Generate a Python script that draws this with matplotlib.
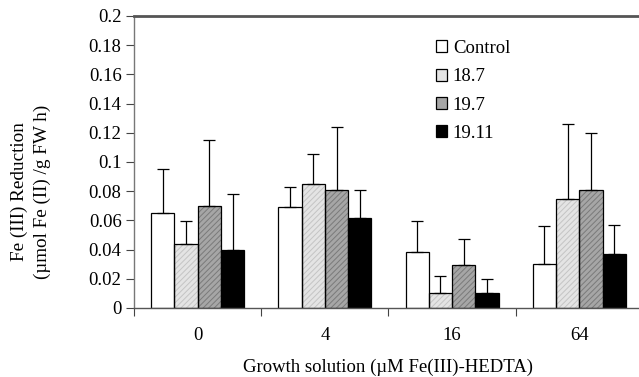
"""Fe(III) reduction by growth solution — grouped bars with upper error bars."""

import matplotlib

matplotlib.use("Agg")
import matplotlib.pyplot as plt
import numpy as np
from matplotlib.patches import Patch

plt.rcParams["font.family"] = ["Liberation Serif", "DejaVu Serif"]
plt.rcParams["hatch.linewidth"] = 0.7

categories = ["0", "4", "16", "64"]
series = ["Control", "18.7", "19.7", "19.11"]
# mean and top of upper whisker
means = {
    "Control": [0.065, 0.069, 0.0385, 0.030],
    "18.7": [0.0435, 0.085, 0.010, 0.075],
    "19.7": [0.070, 0.081, 0.0295, 0.081],
    "19.11": [0.040, 0.0615, 0.010, 0.037],
}
tops = {
    "Control": [0.095, 0.083, 0.0595, 0.0565],
    "18.7": [0.0595, 0.1055, 0.022, 0.126],
    "19.7": [0.115, 0.124, 0.0475, 0.120],
    "19.11": [0.078, 0.081, 0.020, 0.057],
}
y_ticks = [0, 0.02, 0.04, 0.06, 0.08, 0.1, 0.12, 0.14, 0.16, 0.18, 0.2]
y_tick_labels = ["0", "0.02", "0.04", "0.06", "0.08", "0.1", "0.12", "0.14", "0.16", "0.18", "0.2"]

# face colour, hatch, hatch colour
styles = {
    "Control": ("white", None, "white"),
    "18.7": ("#e4e4e4", "//////", "#c4c4c4"),
    "19.7": ("#a6a6a6", "//////", "#7a7a7a"),
    "19.11": ("black", None, "black"),
}

fig = plt.figure(figsize=(6.39, 3.77), dpi=100)
ax = fig.add_axes([134 / 639, 69 / 377, 509 / 639, 292 / 377])

x = np.arange(len(categories))
width = 0.183
for i, name in enumerate(series):
    pos = x + (i - 1.5) * width
    face, hatch, hcol = styles[name]
    # hatched fill first, then a plain black outline on top
    ax.bar(pos, means[name], width, color=face, edgecolor=hcol, linewidth=0,
           hatch=hatch, zorder=2)
    ax.bar(pos, means[name], width, fill=False, edgecolor="black", linewidth=0.9, zorder=2.5)
    err = np.array(tops[name]) - np.array(means[name])
    ax.errorbar(pos, means[name], yerr=[np.zeros_like(err), err], fmt="none",
                ecolor="black", elinewidth=0.9, capsize=4, capthick=0.9, zorder=3)

ax.set_xlim(-0.5, len(categories) - 0.5)
ax.set_ylim(0, 0.2)
ax.set_yticks(y_ticks)
ax.set_yticklabels(y_tick_labels)
ax.set_xticks(x)
ax.set_xticklabels(categories)
ax.set_xticks(np.arange(len(categories) + 1) - 0.5, minor=True)
ax.tick_params(axis="x", which="major", length=0, pad=13.5, labelsize=13.5)
ax.tick_params(axis="x", which="minor", length=6, width=0.8, color="#444444")
ax.tick_params(axis="y", length=6, width=0.8, color="#444444", labelsize=13.5, pad=3)

ax.spines["right"].set_visible(False)
ax.spines["top"].set_linewidth(2)
ax.spines["top"].set_color("#555555")
ax.spines["left"].set_color("#777777")
ax.spines["bottom"].set_color("#555555")
ax.spines["left"].set_linewidth(1.0)
ax.spines["bottom"].set_linewidth(1.0)

ax.set_xlabel("Growth solution (\u00b5M Fe(III)-HEDTA)", fontsize=13.5, labelpad=10.5)
fig.text(19 / 639, 1 - 192 / 377, "Fe (III) Reduction", rotation=90,
         ha="center", va="center", fontsize=13.8)
fig.text(42 / 639, 1 - 192 / 377, "(\u00b5mol Fe (II) /g FW h)", rotation=90,
         ha="center", va="center", fontsize=13.8)

handles = [Patch(facecolor=styles[n][0], edgecolor="black", linewidth=0.9) for n in series]
ax.legend(handles, series, loc="upper left", bbox_to_anchor=(436 / 639, 1 - 40 / 377),
          bbox_transform=fig.transFigure, frameon=False, fontsize=13.5,
          handlelength=0.6, handleheight=0.6, handletextpad=0.3,
          labelspacing=0.6, borderpad=0, borderaxespad=0)

fig.savefig("out.png", dpi=100)
